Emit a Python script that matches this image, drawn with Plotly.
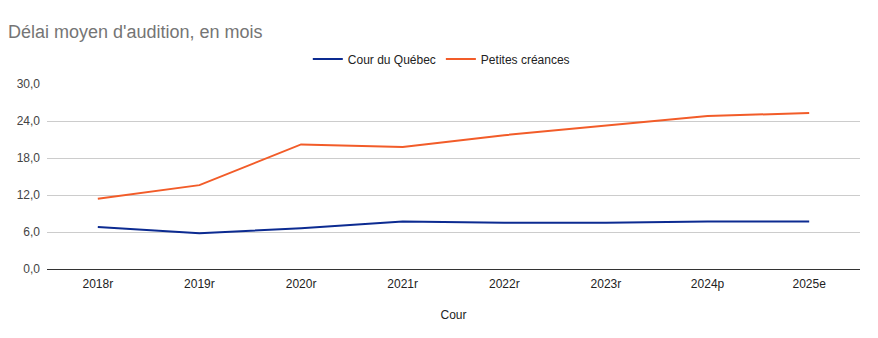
import plotly.graph_objects as go

categories = ["2018r", "2019r", "2020r", "2021r", "2022r", "2023r", "2024p", "2025e"]
cour_quebec = [6.8, 5.8, 6.6, 7.7, 7.5, 7.5, 7.7, 7.7]
petites_creances = [11.4, 13.6, 20.2, 19.8, 21.7, 23.2, 24.8, 25.3]
y_ticks = [0, 6, 12, 18, 24, 30]

fig = go.Figure()
fig.add_trace(go.Scatter(x=categories, y=cour_quebec, mode="lines", name="Cour du Québec",
                         line=dict(color="#0c2b91", width=2)))
fig.add_trace(go.Scatter(x=categories, y=petites_creances, mode="lines", name="Petites créances",
                         line=dict(color="#f25c29", width=2)))

fig.update_layout(
    width=878, height=338,
    margin=dict(l=47, r=18, t=84, b=69),
    paper_bgcolor="white", plot_bgcolor="white",
    font=dict(family="Arial, Liberation Sans, sans-serif", size=12, color="#222"),
    separators=", ",
    title=dict(text="Délai moyen d'audition, en mois", x=0.009, xanchor="left", y=0.905, yanchor="middle",
               font=dict(size=18, color="#757575")),
    legend=dict(orientation="h", x=0.485, xanchor="center", y=1.135, yanchor="middle",
                font=dict(size=12, color="#222"), itemwidth=30),
    xaxis=dict(type="category", range=[-0.5, 7.5], showgrid=False, ticks="",
               title=dict(text="Cour", font=dict(size=12, color="#222"), standoff=20),
               tickfont=dict(size=12, color="#222"), showline=False, zeroline=False,
               ticklabelstandoff=6),
    yaxis=dict(range=[0, 30], tickvals=y_ticks, tickformat=".1f", showgrid=True, gridcolor="#cccccc",
               gridwidth=1, zeroline=True, zerolinecolor="#333333", zerolinewidth=1,
               tickfont=dict(size=12, color="#444"), ticks="", ticklabelstandoff=6),
)

fig.write_html("out.html")
